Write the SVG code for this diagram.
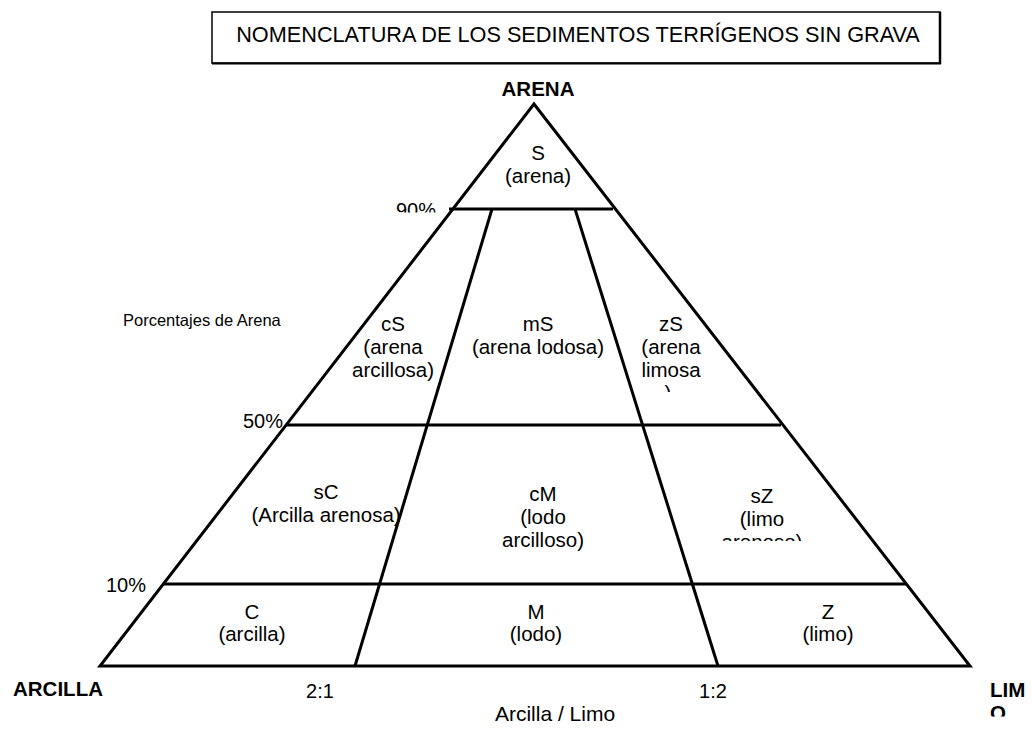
<svg xmlns="http://www.w3.org/2000/svg" width="1032" height="731" viewBox="0 0 1032 731">
<style>
text{font-family:"Liberation Sans",Arial,sans-serif;fill:#000}
.l{font-size:20.5px;text-anchor:middle}
.b{font-weight:bold;font-size:20.5px}
.n{font-size:20px}
.ln{stroke:#000;stroke-width:3;fill:none;stroke-linecap:butt}
</style>
<defs>
<clipPath id="c90"><rect x="380" y="190" width="80" height="22.5"/></clipPath>
<clipPath id="czs"><rect x="640" y="380" width="60" height="12"/></clipPath>
<clipPath id="csz"><rect x="700" y="525" width="130" height="16"/></clipPath>
<clipPath id="climo"><rect x="980" y="700" width="52" height="16.5"/></clipPath>
</defs>
<rect width="1032" height="731" fill="#fff"/>
<g id="title">
<rect x="212" y="12" width="728" height="51" fill="#fff" stroke="#000" stroke-width="1.5"/>
<line x1="940" y1="12" x2="940" y2="64" stroke="#000" stroke-width="2.5"/>
<line x1="212" y1="63.5" x2="941" y2="63.5" stroke="#000" stroke-width="2"/>
<text x="578" y="42" font-size="21.7" text-anchor="middle">NOMENCLATURA DE LOS SEDIMENTOS TERRÍGENOS SIN GRAVA</text>
</g>
<g id="connectors">
<polygon class="ln" points="534,104 100,666 970,666"/>
<line class="ln" x1="449" y1="209" x2="613" y2="209"/>
<line class="ln" x1="287" y1="425" x2="781" y2="425"/>
<line class="ln" x1="163" y1="584" x2="906" y2="584"/>
<line class="ln" x1="492" y1="209" x2="355" y2="666"/>
<line class="ln" x1="575" y1="209" x2="718" y2="666"/>
</g>
<g id="axis-labels">
<text class="b" x="538" y="96" text-anchor="middle">ARENA</text>
<text class="b" x="13" y="696">ARCILLA</text>
<text class="b" x="990" y="697" font-size="21.5">LIM</text>
<text class="b" x="990" y="720" font-size="21.5" clip-path="url(#climo)">O</text>
<text x="123" y="326" font-size="16.5">Porcentajes de Arena</text>
<text class="n" x="416" y="217" text-anchor="middle" clip-path="url(#c90)">90%</text>
<text class="n" x="283" y="428" text-anchor="end">50%</text>
<text class="n" x="106" y="592">10%</text>
<text class="n" x="320" y="698" text-anchor="middle">2:1</text>
<text class="n" x="713" y="698" text-anchor="middle">1:2</text>
<text x="555" y="721" text-anchor="middle" font-size="21">Arcilla / Limo</text>
</g>
<g id="S"><text class="l" x="538" y="160" font-size="17.5">S</text><text class="l" x="538" y="183" font-size="17.5">(arena)</text></g>
<g id="cS"><text class="l" x="393" y="331">cS</text><text class="l" x="393" y="354">(arena</text><text class="l" x="393" y="377">arcillosa)</text></g>
<g id="mS"><text class="l" x="538" y="331">mS</text><text class="l" x="538" y="354">(arena lodosa)</text></g>
<g id="zS"><text class="l" x="671" y="331">zS</text><text class="l" x="671" y="354">(arena</text><text class="l" x="671" y="377">limosa</text><text class="l" x="668" y="400" clip-path="url(#czs)">)</text></g>
<g id="sC"><text class="l" x="326" y="499">sC</text><text class="l" x="326" y="522">(Arcilla arenosa)</text></g>
<g id="cM"><text class="l" x="543" y="501">cM</text><text class="l" x="543" y="524">(lodo</text><text class="l" x="543" y="547">arcilloso)</text></g>
<g id="sZ"><text class="l" x="762" y="503">sZ</text><text class="l" x="762" y="526">(limo</text><text class="l" x="762" y="549" clip-path="url(#csz)">arenoso)</text></g>
<g id="C"><text class="l" x="252" y="619">C</text><text class="l" x="252" y="641">(arcilla)</text></g>
<g id="M"><text class="l" x="536" y="619">M</text><text class="l" x="536" y="641">(lodo)</text></g>
<g id="Z"><text class="l" x="828" y="619">Z</text><text class="l" x="828" y="641">(limo)</text></g>
</svg>
